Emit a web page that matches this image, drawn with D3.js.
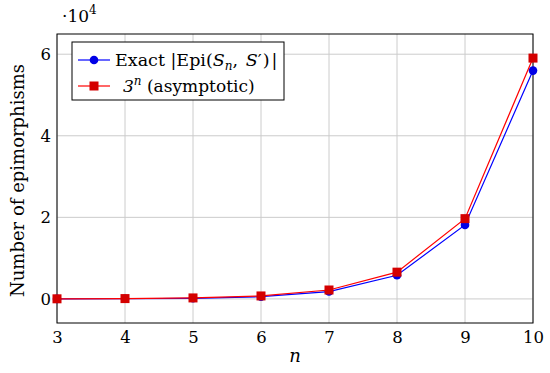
<!DOCTYPE html>
<html>
<head>
<meta charset="utf-8">
<script src="https://cdn.jsdelivr.net/npm/d3@7"></script>
<style>
  body { margin: 0; background: #fff; }
  svg text { font-family: 'DejaVu Serif', serif; }
</style>
</head>
<body>
<svg id="chart" width="550" height="373"></svg>
<script>
const nValues = [3, 4, 5, 6, 7, 8, 9, 10]
const exactValues = [6, 36, 150, 540, 1806, 5796, 18150, 55980]
const asymptoticValues = [27, 81, 243, 729, 2187, 6561, 19683, 59049]
const yTicks = [0, 20000, 40000, 60000]

document.addEventListener('DOMContentLoaded', function () {
  drawChart()
})

function drawChart() {
  const margin = { top: 34, right: 17, bottom: 50, left: 57 }
  const svg = d3.select('#chart')
  const innerWidth = 550 - margin.left - margin.right
  const innerHeight = 373 - margin.top - margin.bottom

  const g = svg.append('g')
    .attr('transform', `translate(${margin.left},${margin.top})`)

  const x = d3.scaleLinear().domain([3, 10]).range([0, innerWidth])
  const y = d3.scaleLinear().domain([-5905, 64954]).range([innerHeight, 0])

  // grid
  g.append('g').selectAll('line')
    .data(nValues)
    .join('line')
    .attr('x1', d => x(d)).attr('x2', d => x(d))
    .attr('y1', 0).attr('y2', innerHeight)
    .attr('stroke', '#cccccc').attr('stroke-width', 1)
  g.append('g').selectAll('line')
    .data(yTicks)
    .join('line')
    .attr('y1', d => y(d)).attr('y2', d => y(d))
    .attr('x1', 0).attr('x2', innerWidth)
    .attr('stroke', '#cccccc').attr('stroke-width', 1)

  // axes
  const xAxis = g.append('g')
    .attr('transform', `translate(0,${innerHeight})`)
    .call(d3.axisBottom(x).tickValues(nValues).tickSize(0).tickPadding(8).tickFormat(d3.format('d')))
  const yAxis = g.append('g')
    .call(d3.axisLeft(y).tickValues(yTicks).tickSize(0).tickPadding(6).tickFormat(d => d / 10000))
  ;[xAxis, yAxis].forEach(a => {
    a.select('.domain').remove()
    a.selectAll('text').attr('font-size', 16.5).attr('fill', '#000')
      .style('font-family', "'DejaVu Serif', serif")
  })

  g.append('rect')
    .attr('width', innerWidth).attr('height', innerHeight)
    .attr('fill', 'none').attr('stroke', '#000').attr('stroke-width', 1)

  // series
  const line = d3.line().x(d => x(d[0])).y(d => y(d[1]))
  const exact = nValues.map((n, i) => [n, exactValues[i]])
  const asym = nValues.map((n, i) => [n, asymptoticValues[i]])

  g.append('path').datum(exact)
    .attr('fill', 'none').attr('stroke', '#0000ff').attr('stroke-width', 1.2)
    .attr('d', line)
  g.append('g').selectAll('circle')
    .data(exact).join('circle')
    .attr('cx', d => x(d[0])).attr('cy', d => y(d[1]))
    .attr('r', 4.3).attr('fill', '#0000e6')

  g.append('path').datum(asym)
    .attr('fill', 'none').attr('stroke', '#ff0000').attr('stroke-width', 1.2)
    .attr('d', line)
  g.append('g').selectAll('rect')
    .data(asym).join('rect')
    .attr('x', d => x(d[0]) - 4.5).attr('y', d => y(d[1]) - 4.5)
    .attr('width', 9).attr('height', 9)
    .attr('fill', '#d40000')

  // scale label
  const sc = svg.append('text').attr('x', 62).attr('y', 22).attr('font-size', 17)
  sc.append('tspan').text('·10')
  sc.append('tspan').attr('font-size', 12).attr('dy', -8).text('4')

  // axis labels
  svg.append('text')
    .attr('transform', `translate(24,${margin.top + innerHeight / 2 + 2}) rotate(-90)`)
    .attr('text-anchor', 'middle').attr('font-size', 18)
    .text('Number of epimorphisms')
  svg.append('text')
    .attr('x', margin.left + innerWidth / 2).attr('y', 362)
    .attr('text-anchor', 'middle').attr('font-size', 18).attr('font-style', 'italic')
    .text('n')

  // legend
  const lg = svg.append('g').attr('transform', 'translate(72,42)')
  lg.append('rect').attr('width', 212).attr('height', 58)
    .attr('fill', '#fff').attr('stroke', '#000').attr('stroke-width', 1)

  const row1 = lg.append('g').attr('transform', 'translate(0,18)')
  row1.append('line').attr('x1', 6).attr('x2', 38).attr('stroke', '#0000ff').attr('stroke-width', 1.2)
  row1.append('circle').attr('cx', 22).attr('r', 4.3).attr('fill', '#0000e6')
  const t1 = row1.append('text').attr('x', 43).attr('y', 6).attr('font-size', 17.5)
  t1.append('tspan').text('Exact |Epi(')
  t1.append('tspan').attr('font-style', 'italic').text('S')
  t1.append('tspan').attr('font-style', 'italic').attr('font-size', 12).attr('dy', 4).text('n')
  t1.append('tspan').attr('dy', -4).text(', ')
  t1.append('tspan').attr('font-style', 'italic').attr('dx', 2).text('S')
  t1.append('tspan').text('′')
  t1.append('tspan').attr('dx', 1).text(')')
  t1.append('tspan').attr('dx', 2).text('|')

  const row2 = lg.append('g').attr('transform', 'translate(0,44)')
  row2.append('line').attr('x1', 6).attr('x2', 38).attr('stroke', '#ff0000').attr('stroke-width', 1.2)
  row2.append('rect').attr('x', 17.5).attr('y', -4.5).attr('width', 9).attr('height', 9).attr('fill', '#d40000')
  const t2 = row2.append('text').attr('x', 51).attr('y', 6).attr('font-size', 17)
  t2.append('tspan').attr('font-style', 'italic').text('3')
  t2.append('tspan').attr('font-style', 'italic').attr('font-size', 12).attr('dy', -7).text('n')
  t2.append('tspan').attr('dy', 7).text(' (asymptotic)')
}
</script>
</body>
</html>
